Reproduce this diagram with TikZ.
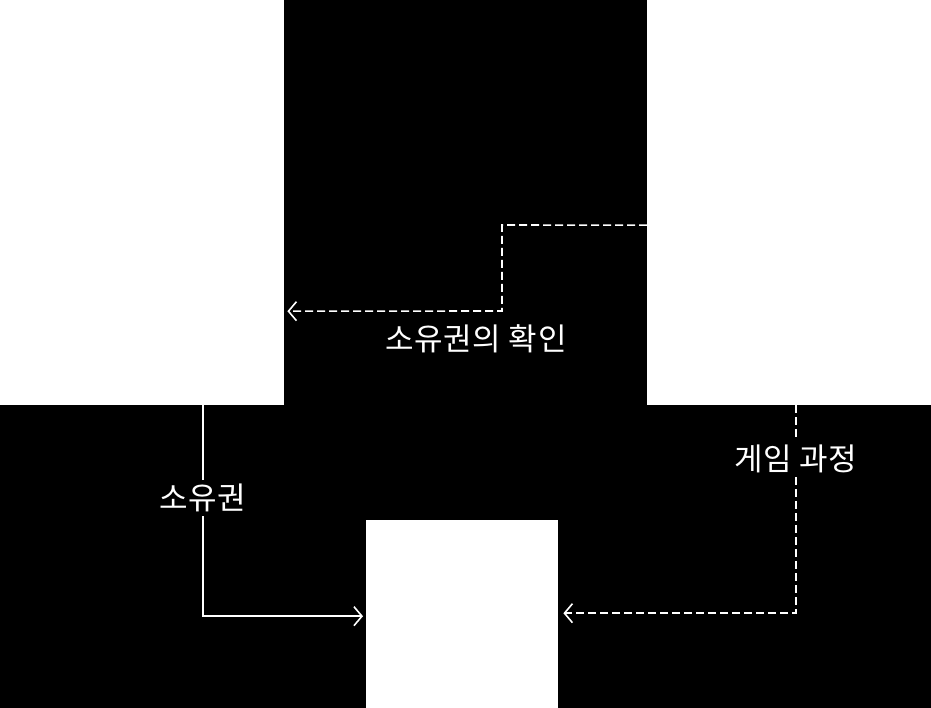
\documentclass[tikz,border=0pt]{standalone}
\usepackage{fontspec}
\setmainfont{Noto Sans CJK KR}
\usetikzlibrary{arrows.meta}
\begin{document}
\begin{tikzpicture}[x=1pt,y=-1pt,
  box/.style={fill=white,draw=none,inner sep=0pt,anchor=north west},
  conn/.style={draw=white,line width=1.6pt,-{Straight Barb[length=8pt,width=19pt,line width=1.6pt]}},
  dsh/.style={conn,dash pattern=on 8pt off 4pt},
  lbl/.style={text=white,font=\fontsize{31}{36}\selectfont\addfontfeatures{LetterSpace=2},inner sep=4pt}]
\fill[black] (0,0) rectangle (931,708);
\useasboundingbox (0,0) rectangle (931,708);
\node[box,minimum width=284pt,minimum height=405pt] (A) at (0,0) {};
\node[box,minimum width=284pt,minimum height=405pt] (B) at (647,0) {};
\node[box,minimum width=192pt,minimum height=188pt] (C) at (366,520) {};
% ownership check
\draw[dsh] ([yshift=-22.5pt]B.west) -- (502,225) -- (502,311) -- ([xshift=3pt,yshift=-108.5pt]A.east);
\node[lbl] (l1) at (476,339) {소유권의 확인};
% ownership
\draw[conn] ([xshift=61pt]A.south) |- ([xshift=-3pt,yshift=-2pt]C.west);
\node[lbl,fill=black] (l2) at (203,498) {소유권};
% game process
\draw[dsh] ([xshift=7pt]B.south) |- ([xshift=5pt,yshift=1pt]C.east);
\node[lbl,fill=black] (l3) at (796,459) {게임 과정};
\end{tikzpicture}
\end{document}
